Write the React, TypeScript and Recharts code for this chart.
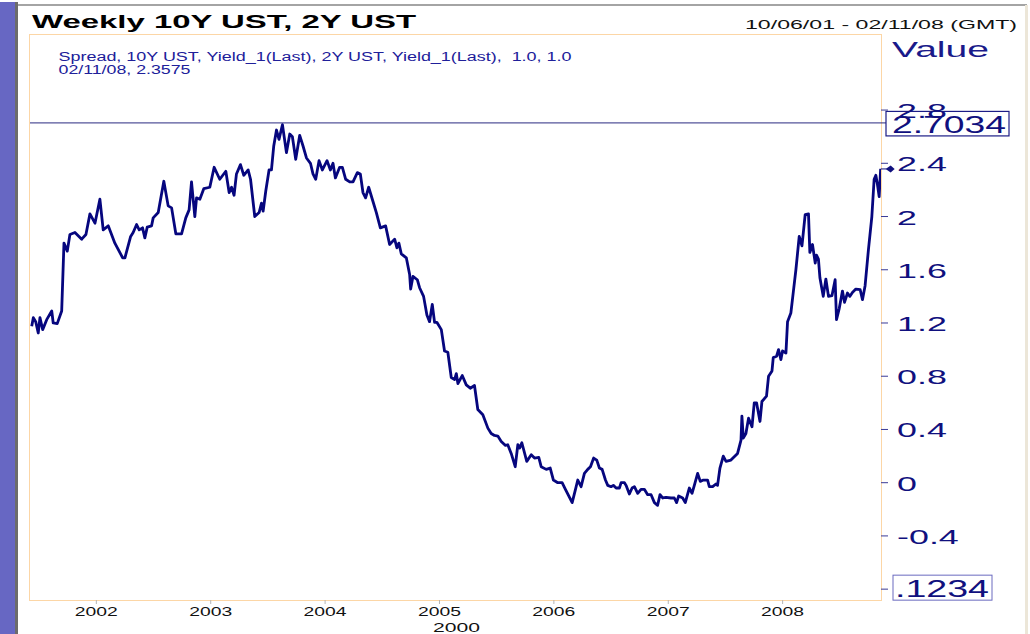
import React from "react";
import { LineChart, Line, XAxis, YAxis, ReferenceLine, ReferenceDot } from "recharts";

// weekly 10Y - 2Y spread (decimal years)
const dates = [
  2001.435, 2001.449, 2001.47, 2001.492, 2001.507, 2001.531, 2001.566, 2001.61, 2001.623, 2001.658,
  2001.697, 2001.717, 2001.746, 2001.769, 2001.813, 2001.872, 2001.909, 2001.944, 2001.988, 2002.031,
  2002.06, 2002.104, 2002.162, 2002.23, 2002.25, 2002.3, 2002.322, 2002.352, 2002.375, 2002.404,
  2002.424, 2002.445, 2002.483, 2002.497, 2002.541, 2002.59, 2002.628, 2002.658, 2002.695, 2002.745,
  2002.782, 2002.811, 2002.832, 2002.861, 2002.876, 2002.905, 2002.94, 2002.992, 2003.03, 2003.079,
  2003.132, 2003.161, 2003.182, 2003.204, 2003.225, 2003.26, 2003.289, 2003.327, 2003.348, 2003.385,
  2003.423, 2003.444, 2003.458, 2003.481, 2003.51, 2003.531, 2003.551, 2003.575, 2003.597, 2003.627,
  2003.662, 2003.691, 2003.714, 2003.743, 2003.778, 2003.807, 2003.837, 2003.872, 2003.894, 2003.918,
  2003.947, 2003.976, 2004.017, 2004.046, 2004.069, 2004.09, 2004.127, 2004.151, 2004.18, 2004.215,
  2004.244, 2004.282, 2004.308, 2004.331, 2004.354, 2004.381, 2004.418, 2004.448, 2004.483, 2004.529,
  2004.564, 2004.608, 2004.628, 2004.645, 2004.666, 2004.71, 2004.739, 2004.748, 2004.768, 2004.806,
  2004.826, 2004.861, 2004.89, 2004.913, 2004.937, 2004.957, 2004.977, 2005.016, 2005.044, 2005.073,
  2005.103, 2005.132, 2005.147, 2005.161, 2005.199, 2005.234, 2005.269, 2005.306, 2005.335, 2005.379,
  2005.423, 2005.452, 2005.481, 2005.51, 2005.54, 2005.577, 2005.597, 2005.627, 2005.662, 2005.685,
  2005.7, 2005.72, 2005.763, 2005.802, 2005.831, 2005.868, 2005.889, 2005.933, 2005.968, 2005.996,
  2006.034, 2006.072, 2006.101, 2006.13, 2006.16, 2006.189, 2006.209, 2006.238, 2006.267, 2006.296,
  2006.32, 2006.348, 2006.375, 2006.398, 2006.422, 2006.451, 2006.471, 2006.5, 2006.52, 2006.544,
  2006.573, 2006.588, 2006.617, 2006.631, 2006.66, 2006.684, 2006.704, 2006.733, 2006.762, 2006.791,
  2006.82, 2006.85, 2006.879, 2006.907, 2006.928, 2006.951, 2006.981, 2007.024, 2007.053, 2007.073,
  2007.091, 2007.126, 2007.149, 2007.184, 2007.208, 2007.228, 2007.257, 2007.28, 2007.307, 2007.344,
  2007.359, 2007.388, 2007.417, 2007.431, 2007.452, 2007.481, 2007.505, 2007.548, 2007.606, 2007.636,
  2007.644, 2007.656, 2007.679, 2007.702, 2007.732, 2007.752, 2007.772, 2007.802, 2007.819, 2007.859,
  2007.877, 2007.907, 2007.918, 2007.947, 2007.964, 2007.985, 2007.999, 2008.029, 2008.043, 2008.072,
  2008.093, 2008.116, 2008.145, 2008.169, 2008.197, 2008.226, 2008.238, 2008.261, 2008.285, 2008.296,
  2008.313, 2008.326, 2008.355, 2008.378, 2008.401, 2008.431, 2008.459, 2008.471, 2008.494, 2008.523,
  2008.541, 2008.567, 2008.588, 2008.61, 2008.64, 2008.678, 2008.698, 2008.721, 2008.75, 2008.78,
  2008.8, 2008.815, 2008.829, 2008.844, 2008.857,
];

const spread = [
  1.175, 1.24, 1.21, 1.125, 1.24, 1.15, 1.225, 1.29, 1.2, 1.195,
  1.29, 1.8, 1.74, 1.865, 1.88, 1.83, 1.865, 2.02, 1.95, 2.13,
  1.9, 1.93, 1.8, 1.69, 1.69, 1.85, 1.88, 1.94, 1.9, 1.915,
  1.84, 1.92, 1.93, 1.99, 2.03, 2.265, 2.08, 2.065, 1.87, 1.87,
  1.99, 2.05, 2.26, 2.0, 2.14, 2.13, 2.21, 2.22, 2.37, 2.28,
  2.34, 2.18, 2.22, 2.16, 2.32, 2.39, 2.31, 2.35, 2.28, 2.0,
  2.03, 2.1, 2.04, 2.19, 2.35, 2.35, 2.53, 2.65, 2.58, 2.69,
  2.48, 2.62, 2.6, 2.43, 2.61, 2.53, 2.44, 2.4, 2.32, 2.28,
  2.42, 2.35, 2.42, 2.35, 2.4, 2.29, 2.37, 2.37, 2.28, 2.26,
  2.26, 2.33, 2.32, 2.18, 2.14, 2.22, 2.115, 2.03, 1.915, 1.93,
  1.79, 1.83, 1.765, 1.8, 1.72, 1.69, 1.565, 1.455, 1.55, 1.525,
  1.465, 1.4, 1.26, 1.21, 1.34, 1.205, 1.205, 1.15, 0.99, 0.98,
  0.79, 0.775, 0.82, 0.745, 0.805, 0.735, 0.71, 0.73, 0.55, 0.51,
  0.41, 0.37, 0.355, 0.35, 0.31, 0.28, 0.285, 0.22, 0.12, 0.285,
  0.26, 0.3, 0.16, 0.21, 0.185, 0.19, 0.12, 0.1, 0.11, 0.02,
  0.0, 0.0, -0.05, -0.1, -0.15, -0.05, 0.02, -0.03, 0.07, 0.1,
  0.12, 0.185, 0.17, 0.11, 0.1, 0.02, -0.02, -0.03, -0.02, -0.04,
  -0.04, 0.0, 0.0, -0.02, -0.085, -0.04, -0.03, -0.08, -0.05, -0.05,
  -0.09, -0.09, -0.15, -0.17, -0.09, -0.115, -0.11, -0.115, -0.115, -0.15,
  -0.1, -0.115, -0.15, -0.04, -0.08, -0.02, 0.07, 0.01, 0.02, 0.02,
  -0.03, -0.03, -0.01, -0.02, 0.11, 0.2, 0.16, 0.17, 0.22, 0.32,
  0.5, 0.335, 0.37, 0.485, 0.42, 0.6, 0.6, 0.46, 0.61, 0.65,
  0.8, 0.84, 0.94, 0.95, 1.0, 0.925, 0.99, 0.975, 1.21, 1.275,
  1.43, 1.6, 1.85, 1.78, 2.015, 2.02, 1.73, 1.79, 1.65, 1.71,
  1.68, 1.54, 1.4, 1.53, 1.4, 1.405, 1.525, 1.225, 1.305, 1.44,
  1.355, 1.425, 1.4, 1.43, 1.455, 1.45, 1.375, 1.48, 1.75, 2.0,
  2.28, 2.31, 2.24, 2.15, 2.3575,
];

const yearTicks = [2002, 2003, 2004, 2005, 2006, 2007, 2008];
const valueTicks = [-0.8, -0.4, 0, 0.4, 0.8, 1.2, 1.6, 2, 2.4, 2.8];
const xDomain = [2001.42, 2008.86];
const yDomain = [-0.8815, 3.364];
const highValue = 2.7034;
const lastValue = 2.3575;
const lowBoxText = ".1234";

const data = dates.map((t, i) => ({ t, spread: spread[i] }));

const NAVY = "#10107e";
const FONT = '"Liberation Sans", Arial, sans-serif';

function ValueTick({ x, y, payload }: any) {
  const v = payload.value;
  if (v === valueTicks[0]) {
    // the lowest tick shows a boxed readout instead of a number
    return (
      <g>
        <rect x={x - 4} y={y - 14} width={99} height={25} fill="#fff" stroke="#6a6abf" strokeWidth={1} />
        <text x={x - 2} y={y + 8} fontSize={24} fontFamily={FONT} fill={NAVY} textLength={94} lengthAdjust="spacingAndGlyphs">
          {lowBoxText}
        </text>
      </g>
    );
  }
  return (
    <text
      transform={`translate(${x} ${y + 8}) scale(1.75 1)`}
      fontSize={20.5}
      fontFamily={FONT}
      fill={NAVY}
    >
      {String(v)}
    </text>
  );
}

function YearTick({ x, y, payload }: any) {
  return (
    <text
      x={x}
      y={y + 12}
      textAnchor="middle"
      fontSize={13}
      fontFamily={FONT}
      fill="#111"
      textLength={43}
      lengthAdjust="spacingAndGlyphs"
    >
      {payload.value}
    </text>
  );
}

function HighBox(props: any) {
  const vb = props.viewBox;
  const bx = vb.x + vb.width + 5;
  const by = vb.y;
  return (
    <g>
      <line x1={vb.x + vb.width} x2={bx} y1={by} y2={by} stroke="#2a2a80" strokeWidth={1} />
      <rect x={bx} y={by - 11.5} width={123} height={24.5} fill="#fff" stroke="#1c1c86" strokeWidth={1.2} />
      <text x={bx + 6} y={by + 10.5} fontSize={23} fontFamily={FONT} fill={NAVY} textLength={114} lengthAdjust="spacingAndGlyphs">
        {String(highValue)}
      </text>
    </g>
  );
}

function EndMarker({ cx, cy }: any) {
  return (
    <g>
      <line x1={cx} x2={cx + 6} y1={cy} y2={cy} stroke={NAVY} strokeWidth={1} />
      <path
        d={`M${cx + 5},${cy} L${cx + 10},${cy - 3.5} L${cx + 14},${cy} L${cx + 10},${cy + 3.5} Z`}
        fill={NAVY}
      />
    </g>
  );
}

export default function App() {
  return (
    <div
      style={{
        position: "absolute",
        left: 0,
        top: 0,
        width: 1030,
        height: 634,
        background: "#fff",
        overflow: "hidden",
        fontFamily: FONT,
      }}
    >
      {/* window frame */}
      <div style={{ position: "absolute", left: 0, top: 2, width: 15, height: 632, background: "#6767c3" }} />
      <div style={{ position: "absolute", left: 15, top: 2, width: 3, height: 632, background: "#6c6c6c" }} />
      <div style={{ position: "absolute", left: 18, top: 4, width: 1009, height: 2, background: "#a4a4a4" }} />
      <div style={{ position: "absolute", left: 1025, top: 5, width: 3, height: 629, background: "#ece6d8" }} />

      {/* plot border */}
      <div
        style={{
          position: "absolute",
          left: 29,
          top: 34,
          width: 853,
          height: 567,
          border: "1.5px solid #fcd6a6",
          boxSizing: "border-box",
        }}
      />

      <div style={{ position: "absolute", left: 0, top: 0 }}>
        <LineChart width={1030} height={634} data={data} margin={{ top: 35, right: 9, bottom: 4, left: 30 }}>
          <XAxis
            dataKey="t"
            type="number"
            domain={xDomain}
            allowDataOverflow
            ticks={yearTicks}
            interval={0}
            height={30}
            axisLine={false}
            tickSize={4}
            tickMargin={0}
            tickLine={{ stroke: "#b5b5b5" }}
            tick={<YearTick />}
          />
          <YAxis
            orientation="right"
            type="number"
            domain={yDomain}
            allowDataOverflow
            ticks={valueTicks}
            interval={0}
            width={140}
            axisLine={false}
            tickSize={7}
            tickMargin={9}
            tickLine={{ stroke: "#3a3a96" }}
            tick={<ValueTick />}
          />
          <ReferenceLine y={highValue} stroke="#2a2a80" strokeWidth={1} label={<HighBox />} />
          <Line
            dataKey="spread"
            type="linear"
            stroke="#06067e"
            strokeWidth={2.8}
            strokeLinejoin="round"
            dot={false}
            isAnimationActive={false}
          />
          <ReferenceDot x={dates[dates.length - 1]} y={lastValue} r={0} shape={<EndMarker />} />
        </LineChart>
      </div>

      {/* texts */}
      <svg width={1030} height={634} style={{ position: "absolute", left: 0, top: 0, pointerEvents: "none" }}>
        <text x={32} y={28} fontSize={19} fontWeight="bold" fontFamily={FONT} fill="#000" textLength={384} lengthAdjust="spacingAndGlyphs">
          Weekly 10Y UST, 2Y UST
        </text>
        <text x={745} y={29} fontSize={12.2} fontFamily={FONT} fill="#111" textLength={272} lengthAdjust="spacingAndGlyphs">
          10/06/01 - 02/11/08 (GMT)
        </text>
        <text x={892} y={57} fontSize={22} fontFamily={FONT} fill="#1a1a8a" textLength={97} lengthAdjust="spacingAndGlyphs">
          Value
        </text>
        <text
          x={58.5}
          y={61}
          fontSize={12.5}
          fontFamily={FONT}
          fill="#20209a"
          textLength={513}
          lengthAdjust="spacingAndGlyphs"
          style={{ whiteSpace: "pre" }}
        >
          {"Spread, 10Y UST, Yield_1(Last), 2Y UST, Yield_1(Last),  1.0, 1.0"}
        </text>
        <text x={58.5} y={74} fontSize={12.5} fontFamily={FONT} fill="#20209a" textLength={132} lengthAdjust="spacingAndGlyphs">
          02/11/08, 2.3575
        </text>
        <text x={433} y={632} fontSize={13} fontFamily={FONT} fill="#111" textLength={47} lengthAdjust="spacingAndGlyphs">
          2000
        </text>
      </svg>
    </div>
  );
}
